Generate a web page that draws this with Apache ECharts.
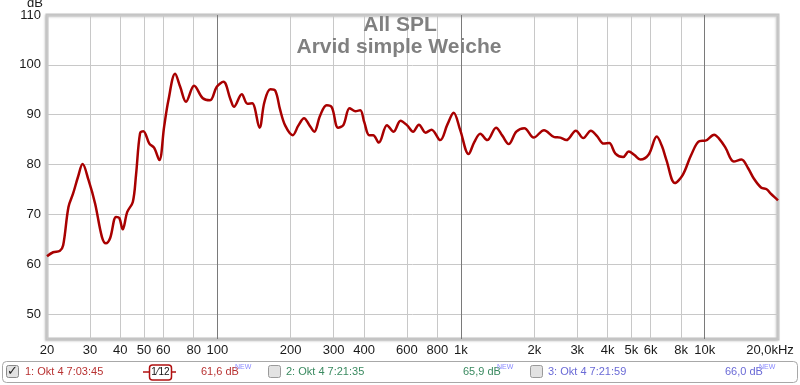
<!DOCTYPE html>
<html>
<head>
<meta charset="utf-8">
<script src="https://cdn.jsdelivr.net/npm/echarts@6/dist/echarts.min.js"></script>
<style>html,body{margin:0;padding:0;background:#fff}#c{width:800px;height:385px}</style>
</head>
<body>
<div id="c"></div>
<script>
// Frequency (Hz) and SPL (dB)
const freqs = [20.0, 21.2, 22.6, 23.3, 24.5, 25.6, 26.8, 28.0, 29.6, 31.5, 33.6, 34.9, 36.3, 38.4, 39.6, 40.9, 42.7, 45.0, 46.4, 48.2,
  49.7, 52.6, 55.0, 57.8, 60.5, 63.0, 67.1, 70.4, 74.4, 80.3, 87.2, 93.4, 99.5, 106, 113, 117, 126, 133, 139, 149,
  156, 165, 173, 181, 190, 204, 215, 227, 238, 250, 264, 281, 295, 313, 329, 349, 368, 386, 401, 420,
  436, 460, 497, 529, 565, 600, 636, 672, 716, 757, 822, 879, 933, 993, 1074, 1134, 1200, 1282, 1393, 1478,
  1569, 1687, 1819, 1987, 2192, 2416, 2558, 2706, 2961, 3178, 3412, 3618, 3852, 4058, 4303, 4628, 4880, 5150, 5450, 5894,
  6360, 6678, 6968, 7551, 8146, 8785, 9521, 10080, 10940, 11500, 12170, 13170, 14160, 15060, 15910, 17030, 18020, 18630, 19810, 20000];
const spl = [61.6, 62.4, 62.7, 63.8, 71.5, 74.2, 77.5, 80.1, 76.9, 72.2, 65.5, 64.2, 65.2, 69.5, 69.3, 67.0, 70.5, 72.5, 78.0, 86.3,
  86.7, 84.2, 83.4, 80.9, 87.6, 92.9, 98.2, 95.6, 92.6, 95.8, 93.3, 92.9, 95.6, 96.6, 93.2, 91.6, 94.1, 92.2, 92.3, 87.4,
  92.5, 95.1, 94.8, 91.0, 87.8, 85.9, 87.8, 89.3, 88.0, 86.6, 89.8, 91.9, 91.5, 87.4, 87.9, 91.3, 90.7, 90.9, 88.5, 85.9,
  85.9, 84.4, 87.9, 86.6, 88.8, 87.9, 86.6, 88.0, 86.4, 87.0, 84.9, 88.0, 90.4, 86.9, 82.1, 84.5, 86.2, 84.9, 87.4, 85.8,
  84.1, 86.6, 87.3, 85.4, 86.9, 85.5, 85.4, 84.9, 86.8, 85.3, 86.8, 85.7, 84.2, 84.3, 82.2, 81.5, 82.6, 81.9, 81.0, 82.0,
  85.6, 83.7, 80.9, 76.3, 78.0, 81.8, 84.7, 84.8, 86.0, 85.1, 83.4, 80.6, 81.0, 79.3, 77.2, 75.4, 75.0, 74.2, 73.0, 72.8];
const xTicks = [20, 30, 40, 50, 60, 80, 100, 200, 300, 400, 600, 800, 1000, 2000, 3000, 4000, 5000, 6000, 8000, 10000, 20000];
const xTickLabels = ['20', '30', '40', '50', '60', '80', '100', '200', '300', '400', '600', '800', '1k', '2k', '3k', '4k', '5k', '6k', '8k', '10k', '20,0kHz'];
const xMajor = [100, 1000, 10000];

const FONT = "'Liberation Sans', Arial, sans-serif";
const chart = echarts.init(document.getElementById('c'), null, {renderer: 'canvas'});

const gridLines = xTicks.map((v, i) => {
  const item = {
    xAxis: v,
    lineStyle: {color: xMajor.includes(v) ? '#7a7a7a' : '#c8c8c8', width: 1, type: 'solid'},
    label: {formatter: xTickLabels[i]}
  };
  if (v === 20000) item.label.padding = [0, 16, 0, 0];
  return item;
});

chart.setOption({
  animation: false,
  backgroundColor: '#fff',
  grid: {left: 47, right: 22, top: 15, bottom: 46, show: true, backgroundColor: '#fff',
         borderColor: '#c4c4c4', borderWidth: 3, shadowColor: 'rgba(0,0,0,0.15)', shadowBlur: 2, shadowOffsetX: -1, shadowOffsetY: 1},
  xAxis: {type: 'log', min: 20, max: 20000, logBase: 10,
          axisLine: {show: false}, axisTick: {show: false}, axisLabel: {show: false}, splitLine: {show: false}},
  yAxis: {type: 'value', min: 45, max: 110, interval: 5,
          axisLine: {show: false}, axisTick: {show: false},
          axisLabel: {formatter: v => (v % 10 === 0 ? String(v) : ''), color: '#1a1a1a', fontSize: 13, fontFamily: FONT, margin: 6},
          splitLine: {show: true, lineStyle: {color: ['rgba(0,0,0,0)', '#c8c8c8'], width: 1}}},
  series: [
    {type: 'line', z: 1, data: freqs.map((f, i) => [f, spl[i]]), showSymbol: false, silent: true,
     lineStyle: {opacity: 0},
     markLine: {silent: true, symbol: ['none', 'none'], animation: false,
                label: {show: true, position: 'start', distance: 5, color: '#1a1a1a', fontSize: 13, fontFamily: FONT},
                emphasis: {disabled: true},
                data: gridLines}},
    {type: 'line', z: 5, data: freqs.map((f, i) => [f, spl[i]]), showSymbol: false, smooth: 0.35, silent: true,
     lineStyle: {color: '#a80000', width: 2.5}}
  ],
  graphic: [
    {type: 'text', left: 27, top: -3, style: {text: 'dB', font: '13px ' + FONT, fill: '#1a1a1a'}},
    {type: 'text', x: 400, y: 15, z: 10, style: {text: 'All SPL', font: 'bold 21px ' + FONT, fill: '#808080', textAlign: 'center', textVerticalAlign: 'top'}},
    {type: 'text', x: 399, y: 37, z: 10, style: {text: 'Arvid simple Weiche', font: 'bold 21px ' + FONT, fill: '#808080', textAlign: 'center', textVerticalAlign: 'top'}},
    // legend bar
    {type: 'rect', shape: {x: 2.5, y: 361.5, width: 795, height: 21, r: 4}, style: {fill: '#fff', stroke: '#a8a8a8', lineWidth: 1}},
    {type: 'rect', shape: {x: 6.5, y: 365.5, width: 12, height: 12, r: 2}, style: {fill: '#e2e2e2', stroke: '#8a8a8a', lineWidth: 1}},
    {type: 'text', x: 12.5, y: 371.5, style: {text: '✓', font: 'bold 13px DejaVu Sans', fill: '#222', textAlign: 'center', textVerticalAlign: 'middle'}},
    {type: 'text', x: 25, y: 372, style: {text: '1: Okt 4 7:03:45', font: '11px ' + FONT, fill: '#b83232', textVerticalAlign: 'middle'}},
    {type: 'line', shape: {x1: 143, y1: 372, x2: 176, y2: 372}, style: {stroke: '#b01010', lineWidth: 1.5}},
    {type: 'rect', shape: {x: 149.5, y: 365, width: 22, height: 15, r: 3}, style: {fill: '#fff', stroke: '#b01010', lineWidth: 1.5}},
    {type: 'text', x: 160.5, y: 372.5, style: {text: '1⁄12', font: '10px ' + FONT, fill: '#111', textAlign: 'center', textVerticalAlign: 'middle'}},
    {type: 'text', x: 201, y: 372, style: {text: '61,6 dB', font: '11px ' + FONT, fill: '#b83232', textVerticalAlign: 'middle'}},
    {type: 'text', x: 235, y: 367, style: {text: 'NEW', font: '7px ' + FONT, fill: '#8a8aff', textVerticalAlign: 'middle'}},
    {type: 'rect', shape: {x: 268.5, y: 365.5, width: 12, height: 12, r: 2}, style: {fill: '#e2e2e2', stroke: '#9a9a9a', lineWidth: 1}},
    {type: 'text', x: 286, y: 372, style: {text: '2: Okt 4 7:21:35', font: '11px ' + FONT, fill: '#3a8a60', textVerticalAlign: 'middle'}},
    {type: 'text', x: 463, y: 372, style: {text: '65,9 dB', font: '11px ' + FONT, fill: '#3a8a60', textVerticalAlign: 'middle'}},
    {type: 'text', x: 497, y: 367, style: {text: 'NEW', font: '7px ' + FONT, fill: '#8a8aff', textVerticalAlign: 'middle'}},
    {type: 'rect', shape: {x: 530.5, y: 365.5, width: 12, height: 12, r: 2}, style: {fill: '#e2e2e2', stroke: '#9a9a9a', lineWidth: 1}},
    {type: 'text', x: 548, y: 372, style: {text: '3: Okt 4 7:21:59', font: '11px ' + FONT, fill: '#6a6ad6', textVerticalAlign: 'middle'}},
    {type: 'text', x: 725, y: 372, style: {text: '66,0 dB', font: '11px ' + FONT, fill: '#6a6ad6', textVerticalAlign: 'middle'}},
    {type: 'text', x: 759, y: 367, style: {text: 'NEW', font: '7px ' + FONT, fill: '#8a8aff', textVerticalAlign: 'middle'}}
  ]
});
</script>
</body>
</html>
